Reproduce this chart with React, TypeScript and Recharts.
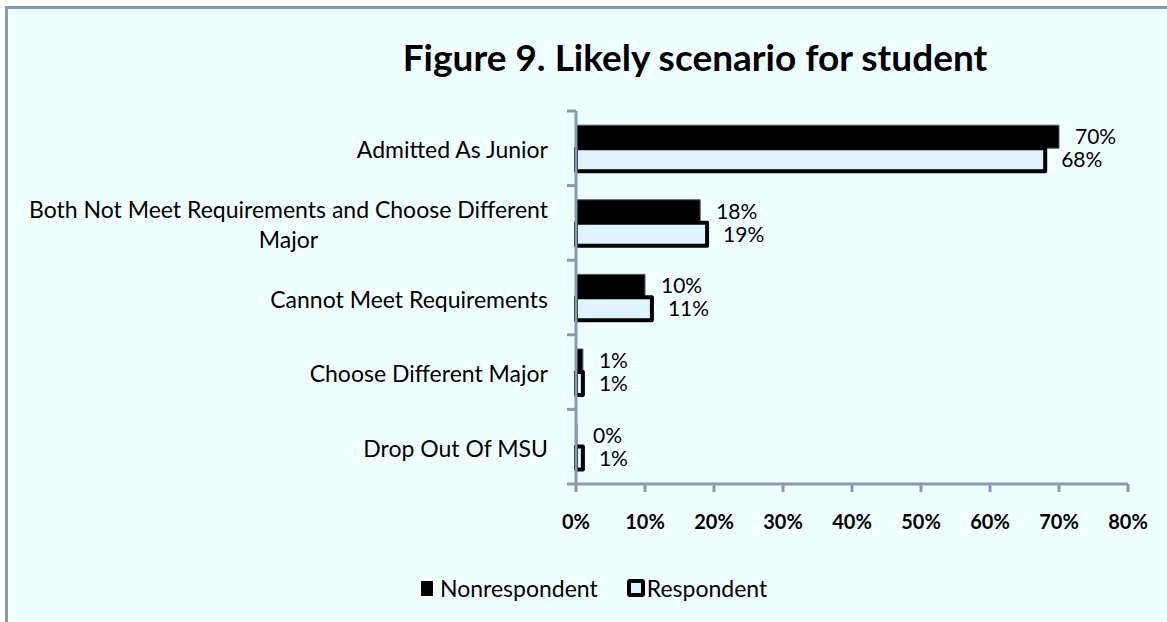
import React from 'react';
import { BarChart, Bar, XAxis, YAxis, LabelList } from 'recharts';

const categories = [
  'Admitted As Junior',
  'Both Not Meet Requirements and Choose Different Major',
  'Cannot Meet Requirements',
  'Choose Different Major',
  'Drop Out Of MSU',
];
const nonrespondent = [70, 18, 10, 1, 0];
const respondent = [68, 19, 11, 1, 1];
const xTicks = [0, 10, 20, 30, 40, 50, 60, 70, 80];

const data = categories.map((name, i) => ({
  name,
  Nonrespondent: nonrespondent[i],
  Respondent: respondent[i],
}));

const FONT = 'Lato, "Open Sans", sans-serif';
const AXIS = '#8A99B0';
const PLOT_LEFT = 576;
const PLOT_RIGHT = 1128;
const PLOT_TOP = 111;
const PLOT_BOTTOM = 484;
const LABEL_RIGHT = 548;
const LABEL_SIZE = 23;

let ctx: CanvasRenderingContext2D | null = null;
const measure = (s: string) => {
  if (!ctx) ctx = document.createElement('canvas').getContext('2d');
  if (!ctx) return s.length * LABEL_SIZE * 0.5;
  ctx.font = `${LABEL_SIZE}px Lato`;
  return ctx.measureText(s).width;
};

// wrap long category names the way the original does
const wrap = (s: string, max = 48) => {
  const lines: string[] = [];
  let cur = '';
  s.split(' ').forEach((w) => {
    if (cur && (cur + ' ' + w).length > max) {
      lines.push(cur);
      cur = w;
    } else cur = cur ? cur + ' ' + w : w;
  });
  lines.push(cur);
  return lines;
};

const CategoryTick = ({ y, payload, index }: any) => {
  const band = (PLOT_BOTTOM - PLOT_TOP) / categories.length;
  const lines = wrap(payload.value);
  const blockW = Math.max(...lines.map(measure));
  const cx = LABEL_RIGHT - blockW / 2;
  const lh = 30;
  const y0 = y + 2 - ((lines.length - 1) * lh) / 2;
  return (
    <g>
      <line x1={PLOT_LEFT - 9} x2={PLOT_LEFT} y1={y - band / 2} y2={y - band / 2} stroke={AXIS} strokeWidth={3} />
      {index === categories.length - 1 && (
        <line x1={PLOT_LEFT - 9} x2={PLOT_LEFT} y1={y + band / 2} y2={y + band / 2} stroke={AXIS} strokeWidth={3} />
      )}
      {lines.map((l, i) => (
        <text
          key={i}
          x={lines.length > 1 ? cx : LABEL_RIGHT}
          y={y0 + i * lh}
          dy="0.35em"
          textAnchor={lines.length > 1 ? 'middle' : 'end'}
          fontSize={LABEL_SIZE}
          fontFamily={FONT}
          fill="#000"
        >
          {l}
        </text>
      ))}
    </g>
  );
};

const LegendBox = () => (
  <div
    style={{
      position: 'absolute',
      top: 574,
      left: 421,
      display: 'flex',
      alignItems: 'center',
      fontSize: 23,
      fontFamily: FONT,
      color: '#000',
    }}
  >
    <span style={{ width: 12, height: 15, background: '#000', display: 'inline-block', marginRight: 7 }} />
    <span style={{ marginRight: 29 }}>Nonrespondent</span>
    <span
      style={{
        width: 10,
        height: 10,
        background: '#E0F4FF',
        border: '4px solid #000',
        borderRadius: 3,
        display: 'inline-block',
        marginRight: 2,
      }}
    />
    <span>Respondent</span>
  </div>
);

export default function App() {
  return (
    <div style={{ position: 'absolute', left: 0, top: 0, width: 1167, height: 622, overflow: 'hidden', background: '#fff' }}>
      <div
        style={{
          position: 'absolute',
          left: 5,
          top: 6,
          width: 1200,
          height: 700,
          borderTop: `3px solid ${AXIS}`,
          borderLeft: `3px solid ${AXIS}`,
          background: '#F0FFFF',
        }}
      />
      <div
        style={{
          position: 'absolute',
          left: 0,
          width: 1390,
          top: 34,
          textAlign: 'center',
          fontFamily: FONT,
          fontWeight: 700,
          fontSize: 37,
          color: '#000',
        }}
      >
        Figure 9. Likely scenario for student
      </div>
      <div style={{ position: 'absolute', left: 0, top: 0 }}>
        <BarChart
          width={1167}
          height={622}
          data={data}
          layout="vertical"
          margin={{ top: PLOT_TOP, right: 1167 - PLOT_RIGHT, bottom: 622 - PLOT_BOTTOM - 40, left: 0 }}
          barCategoryGap="19%"
          barGap={0}
        >
          <XAxis
            type="number"
            domain={[0, 80]}
            ticks={xTicks}
            interval={0}
            height={40}
            tickFormatter={(v) => `${v}%`}
            axisLine={{ stroke: AXIS, strokeWidth: 3 }}
            tickLine={{ stroke: AXIS, strokeWidth: 3 }}
            tickSize={8}
            tickMargin={23}
            tick={{ fill: '#000', fontSize: 20, fontWeight: 700, fontFamily: FONT }}
          />
          <YAxis
            type="category"
            dataKey="name"
            width={PLOT_LEFT}
            axisLine={{ stroke: AXIS, strokeWidth: 3 }}
            tickLine={false}
            interval={0}
            tick={<CategoryTick />}
          />
          <Bar
            dataKey="Nonrespondent"
            fill="#000"
            stroke="#555"
            strokeWidth={1}
            minPointSize={1}
            isAnimationActive={false}
          >
            <LabelList
              dataKey="Nonrespondent"
              position="right"
              offset={16}
              formatter={(v: any) => `${v}%`}
              style={{ fill: '#000', fontSize: 21, fontFamily: FONT }}
            />
          </Bar>
          <Bar
            dataKey="Respondent"
            fill="#E0F4FF"
            stroke="#000"
            strokeWidth={4}
            strokeLinejoin="round"
            isAnimationActive={false}
          >
            <LabelList
              dataKey="Respondent"
              position="right"
              offset={16}
              formatter={(v: any) => `${v}%`}
              style={{ fill: '#000', fontSize: 21, fontFamily: FONT }}
            />
          </Bar>
        </BarChart>
      </div>
      <LegendBox />
    </div>
  );
}
